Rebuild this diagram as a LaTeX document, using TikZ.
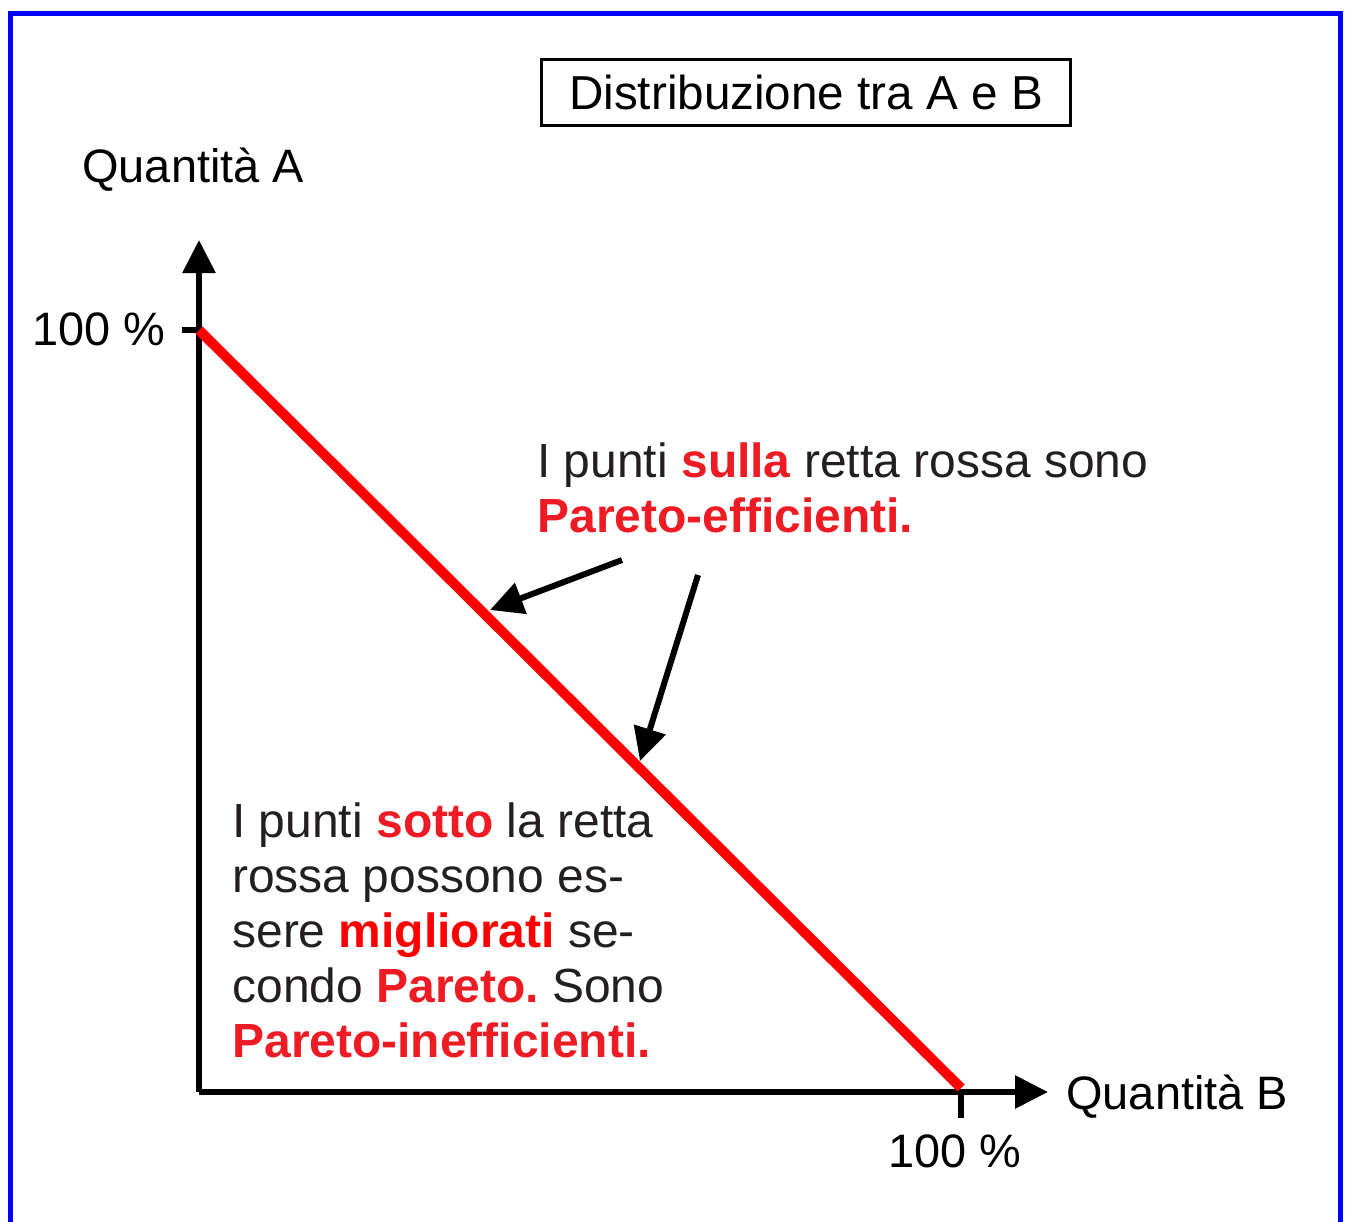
\documentclass[tikz,border=0pt]{standalone}
\usepackage{fontspec}
\setmainfont{Liberation Sans}
\usepackage{tikz}
\usetikzlibrary{arrows.meta,positioning,calc}
\definecolor{FrameBlue}{RGB}{0,0,255}
\definecolor{TextGray}{RGB}{35,31,32}
\definecolor{ParRed}{RGB}{237,28,36}
\definecolor{LineRed}{RGB}{255,0,0}
\newcommand{\rd}[1]{\textcolor{ParRed}{\textbf{#1}}}
\frenchspacing

\begin{document}
\begin{tikzpicture}[x=0.02cm,y=-0.02cm,>={Triangle[length=0.66cm,width=0.64cm]},every node/.style={font=\fontsize{26.7pt}{31.3pt}\selectfont,inner sep=0pt}]
\tikzset{axis/.style={line width=0.12cm,->},tick/.style={line width=0.12cm},pointer/.style={line width=0.12cm,->},note/.style={align=left,text=TextGray,anchor=north west,font=\fontsize{27.3pt}{31.3pt}\selectfont}}
\useasboundingbox (0,0) rectangle (1349,1221);
\draw[FrameBlue,line width=0.1cm] (10.5,1260) -- (10.5,13.5) -- (1340.5,13.5) -- (1340.5,1260);
% axes
\coordinate (O) at (199,1092);
\coordinate (ytop) at (199,240);
\coordinate (xend) at (1048,1092);
\coordinate (A100) at (199,330);
\coordinate (B100) at (961,1092);
\draw[axis] (O) -- (ytop);
\draw[axis] (O) -- (xend);
\draw[tick] (A100) -- ++(-17,0) coordinate (ya);
\draw[tick] (B100) -- ++(0,26) coordinate (xb);
\node[anchor=base east] (la) at (166,345) {100 \%};
\node[anchor=base west] (lb) at (888,1167) {100 \%};
\node[anchor=base west] (qa) at (82,182) {Quantità A};
\node[anchor=base west] (qb) at (1066,1109) {Quantità B};
% title
\node[draw,line width=0.06cm,minimum width=10.6cm,minimum height=1.34cm,font=\fontsize{27.1pt}{31pt}\selectfont] (title) at (806,92.5) {Distribuzione tra A e B};
% frontier
\draw[LineRed,line width=0.2cm] (A100) -- ($(B100)+(0,-4)$);
% notes
\node[note] (eff) at (537,442) {I punti \rd{sulla} retta rossa sono\\\rd{Pareto-efficienti.}};
\node[note] (ineff) at (232,802) {I punti \rd{sotto} la retta\\rossa possono es-\\sere \textcolor{LineRed}{\textbf{migliorati}} se-\\condo \rd{Pareto.} Sono\\\rd{Pareto-inefficienti.}};
\coordinate (t1) at (622,560);
\coordinate (p1) at (490,610);
\coordinate (t2) at (698,575);
\coordinate (p2) at (640,761);
\draw[pointer] (t1) -- (p1);
\draw[pointer] (t2) -- (p2);
\end{tikzpicture}
\end{document}
